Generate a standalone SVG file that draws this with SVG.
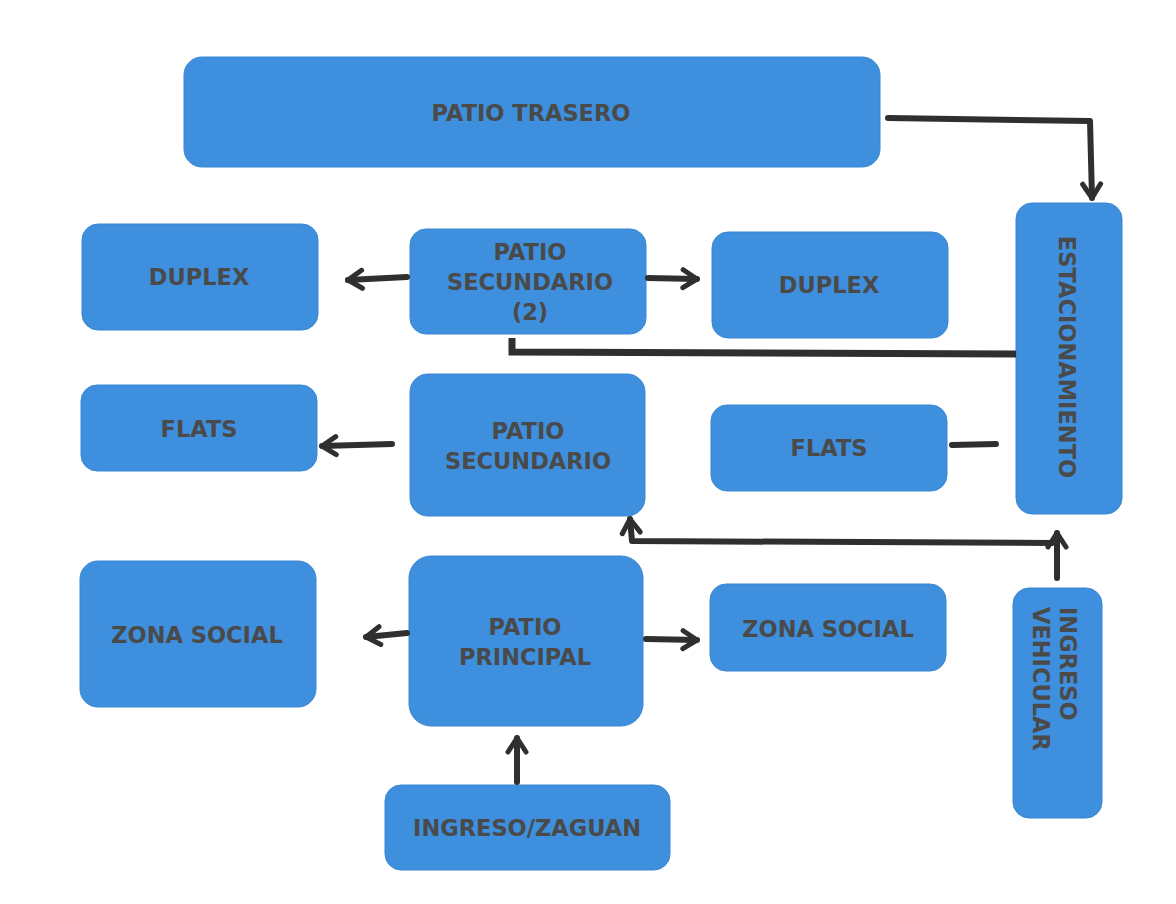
<svg xmlns="http://www.w3.org/2000/svg" width="1176" height="904" viewBox="0 0 1176 904">
<style>
.box{fill:#3e8fdd;stroke:#3a86d0;stroke-width:1}
.lbl{font-family:"DejaVu Sans","Verdana",sans-serif;font-weight:bold;font-size:22.5px;fill:#4a4a4a;text-anchor:middle;dominant-baseline:central}
.lblv{font-family:"DejaVu Sans","Verdana",sans-serif;font-weight:bold;font-size:22.5px;fill:#4a4a4a;text-anchor:start;dominant-baseline:central}
.con{fill:none;stroke:#2f2f2f;stroke-width:6;stroke-linecap:round;stroke-linejoin:round}
</style>
<defs>
<marker id="arr" viewBox="0 0 24 24" refX="20" refY="12" markerWidth="24" markerHeight="24" markerUnits="userSpaceOnUse" orient="auto">
<path d="M6,3 L20,12 L6,21" fill="none" stroke="#2f2f2f" stroke-width="5" stroke-linecap="round" stroke-linejoin="round"/>
</marker>
</defs>
<rect width="1176" height="904" fill="#ffffff"/>

<g id="patio-trasero"><rect class="box" x="184" y="57" width="696" height="110" rx="18"/><text class="lbl" x="531" y="113">PATIO TRASERO</text></g>
<g id="estacionamiento"><rect class="box" x="1016" y="203" width="106" height="311" rx="16"/><text class="lbl" transform="translate(1067,357) rotate(90)" x="0" y="0">ESTACIONAMIENTO</text></g>
<g id="duplex-izq"><rect class="box" x="82" y="224" width="236" height="106" rx="16"/><text class="lbl" x="199" y="277">DUPLEX</text></g>
<g id="patio-secundario-2"><rect class="box" x="410" y="229" width="236" height="105" rx="16"/><text class="lbl" x="530" y="252">PATIO</text><text class="lbl" x="530" y="282">SECUNDARIO</text><text class="lbl" x="530" y="312">(2)</text></g>
<g id="duplex-der"><rect class="box" x="712" y="232" width="236" height="106" rx="16"/><text class="lbl" x="829" y="285">DUPLEX</text></g>
<g id="flats-izq"><rect class="box" x="81" y="385" width="236" height="86" rx="16"/><text class="lbl" x="199" y="429">FLATS</text></g>
<g id="patio-secundario"><rect class="box" x="410" y="374" width="235" height="142" rx="18"/><text class="lbl" x="528" y="431">PATIO</text><text class="lbl" x="528" y="461">SECUNDARIO</text></g>
<g id="flats-der"><rect class="box" x="711" y="405" width="236" height="86" rx="16"/><text class="lbl" x="829" y="448">FLATS</text></g>
<g id="zona-social-izq"><rect class="box" x="80" y="561" width="236" height="146" rx="18"/><text class="lbl" x="197" y="635">ZONA SOCIAL</text></g>
<g id="patio-principal"><rect class="box" x="409" y="556" width="234" height="170" rx="22"/><text class="lbl" x="525" y="627">PATIO</text><text class="lbl" x="525" y="657">PRINCIPAL</text></g>
<g id="zona-social-der"><rect class="box" x="710" y="584" width="236" height="87" rx="16"/><text class="lbl" x="828" y="629">ZONA SOCIAL</text></g>
<g id="ingreso-vehicular"><rect class="box" x="1013" y="588" width="89" height="230" rx="16"/><text class="lblv" transform="translate(1068,607) rotate(90)" x="0" y="0">INGRESO</text><text class="lblv" transform="translate(1041,607) rotate(90)" x="0" y="0">VEHICULAR</text></g>
<g id="ingreso-zaguan"><rect class="box" x="385" y="785" width="285" height="85" rx="16"/><text class="lbl" x="527" y="828">INGRESO/ZAGUAN</text></g>

<g id="connectors">
<path class="con" d="M888,118 L1090,121 L1092,198" marker-end="url(#arr)"/>
<path class="con" d="M1016,354 L512,352 L512,338" style="stroke-linecap:butt;stroke-linejoin:miter;stroke-width:7"/>
<path class="con" d="M407,277 L348,280" marker-end="url(#arr)"/>
<path class="con" d="M648,278 L697,279" marker-end="url(#arr)"/>
<path class="con" d="M392,444 L322,446" marker-end="url(#arr)"/>
<path class="con" d="M952,445 L996,444"/>
<path class="con" d="M1057,578 L1057,533" marker-end="url(#arr)"/>
<path class="con" d="M1052,543 L632,541 L630,519" marker-end="url(#arr)"/>
<path class="con" d="M407,633 L366,637" marker-end="url(#arr)"/>
<path class="con" d="M646,639 L697,640" marker-end="url(#arr)"/>
<path class="con" d="M517,782 L517,738" marker-end="url(#arr)"/>
</g>
</svg>
